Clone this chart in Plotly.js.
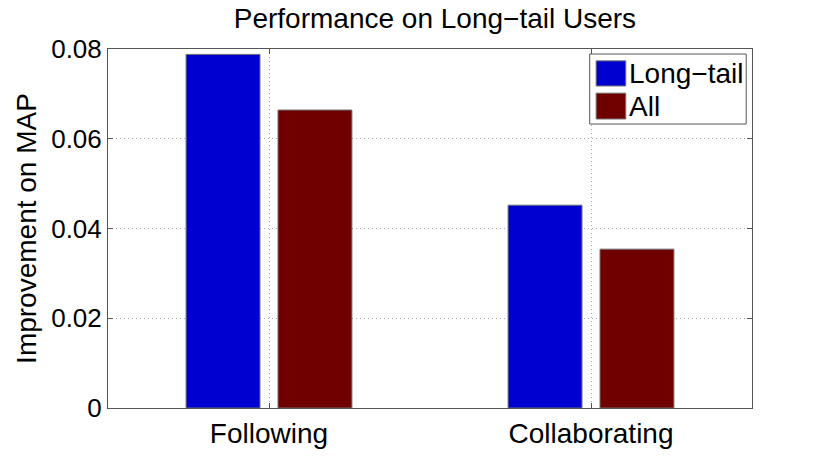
<!DOCTYPE html>
<html>
<head>
<meta charset="utf-8">
<script src="https://cdn.plot.ly/plotly-3.0.1.min.js"></script>
<style>
  html, body { margin: 0; padding: 0; background: #fff; }
  #graph { width: 830px; height: 459px; }
</style>
</head>
<body>
<div id="graph"></div>
<script>
var categories = ['Following', 'Collaborating'];
var seriesNames = ['Long\u2212tail', 'All'];
var longTail = [0.0788, 0.0452];
var allUsers = [0.0664, 0.0354];
var seriesColors = ['rgb(0,0,208)', 'rgb(112,0,0)'];

var xPos = categories.map(function(c, i) { return i + 1; });
var font = 'Liberation Sans, Arial, Helvetica, sans-serif';

var traces = [longTail, allUsers].map(function(vals, i) {
    return {
        type: 'bar',
        x: xPos,
        y: vals,
        name: seriesNames[i],
        marker: { color: seriesColors[i], line: { color: '#707070', width: 1 } },
        hoverinfo: 'skip'
    };
});

// legend drawn by hand so the swatches are as large as in the original
var legendShapes = [{
    type: 'rect', xref: 'paper', yref: 'paper',
    x0: 0.748, x1: 0.991, y0: 0.791, y1: 0.986,
    line: { color: '#555', width: 1 }, fillcolor: '#fff'
}];
var legendNotes = [];
var swatchY = [[0.897, 0.967], [0.805, 0.877]];
seriesNames.forEach(function(name, i) {
    legendShapes.push({
        type: 'rect', xref: 'paper', yref: 'paper',
        x0: 0.758, x1: 0.804, y0: swatchY[i][0], y1: swatchY[i][1],
        line: { color: '#707070', width: 1 }, fillcolor: seriesColors[i]
    });
    legendNotes.push({
        xref: 'paper', yref: 'paper', x: 0.806, xanchor: 'left',
        y: (swatchY[i][0] + swatchY[i][1]) / 2, yanchor: 'middle',
        text: name, showarrow: false,
        font: { family: font, size: 28, color: '#000' }
    });
});

var layout = {
    width: 830,
    height: 459,
    margin: { l: 108, r: 78, t: 49, b: 51 },
    paper_bgcolor: '#fff',
    plot_bgcolor: '#fff',
    showlegend: false,
    barmode: 'group',
    bargap: 0.429,
    bargroupgap: 0.196,
    title: {
        text: 'Performance on Long\u2212tail Users',
        font: { family: font, size: 28, color: '#000' },
        x: 0.524, xref: 'container', y: 0.961, yanchor: 'middle'
    },
    xaxis: {
        range: [0.5, 2.5],
        tickvals: xPos,
        ticktext: categories,
        ticks: 'inside', ticklen: 5, tickcolor: '#555',
        showline: true, linecolor: '#555', linewidth: 1, mirror: 'ticks',
        showgrid: true, gridcolor: '#aaa', griddash: '1px,3px', gridwidth: 1,
        zeroline: false,
        tickfont: { family: font, size: 28, color: '#000' }
    },
    yaxis: {
        range: [0, 0.08],
        dtick: 0.02,
        ticks: 'inside', ticklen: 5, tickcolor: '#555',
        showline: true, linecolor: '#555', linewidth: 1, mirror: 'ticks',
        showgrid: true, gridcolor: '#aaa', griddash: '1px,3px', gridwidth: 1,
        zeroline: false,
        tickfont: { family: font, size: 26, color: '#000' },
        title: { text: 'Improvement on MAP', font: { family: font, size: 28, color: '#000' }, standoff: 6 }
    },
    shapes: legendShapes,
    annotations: legendNotes
};

Plotly.newPlot('graph', traces, layout, { displayModeBar: false, staticPlot: true });
</script>
</body>
</html>
